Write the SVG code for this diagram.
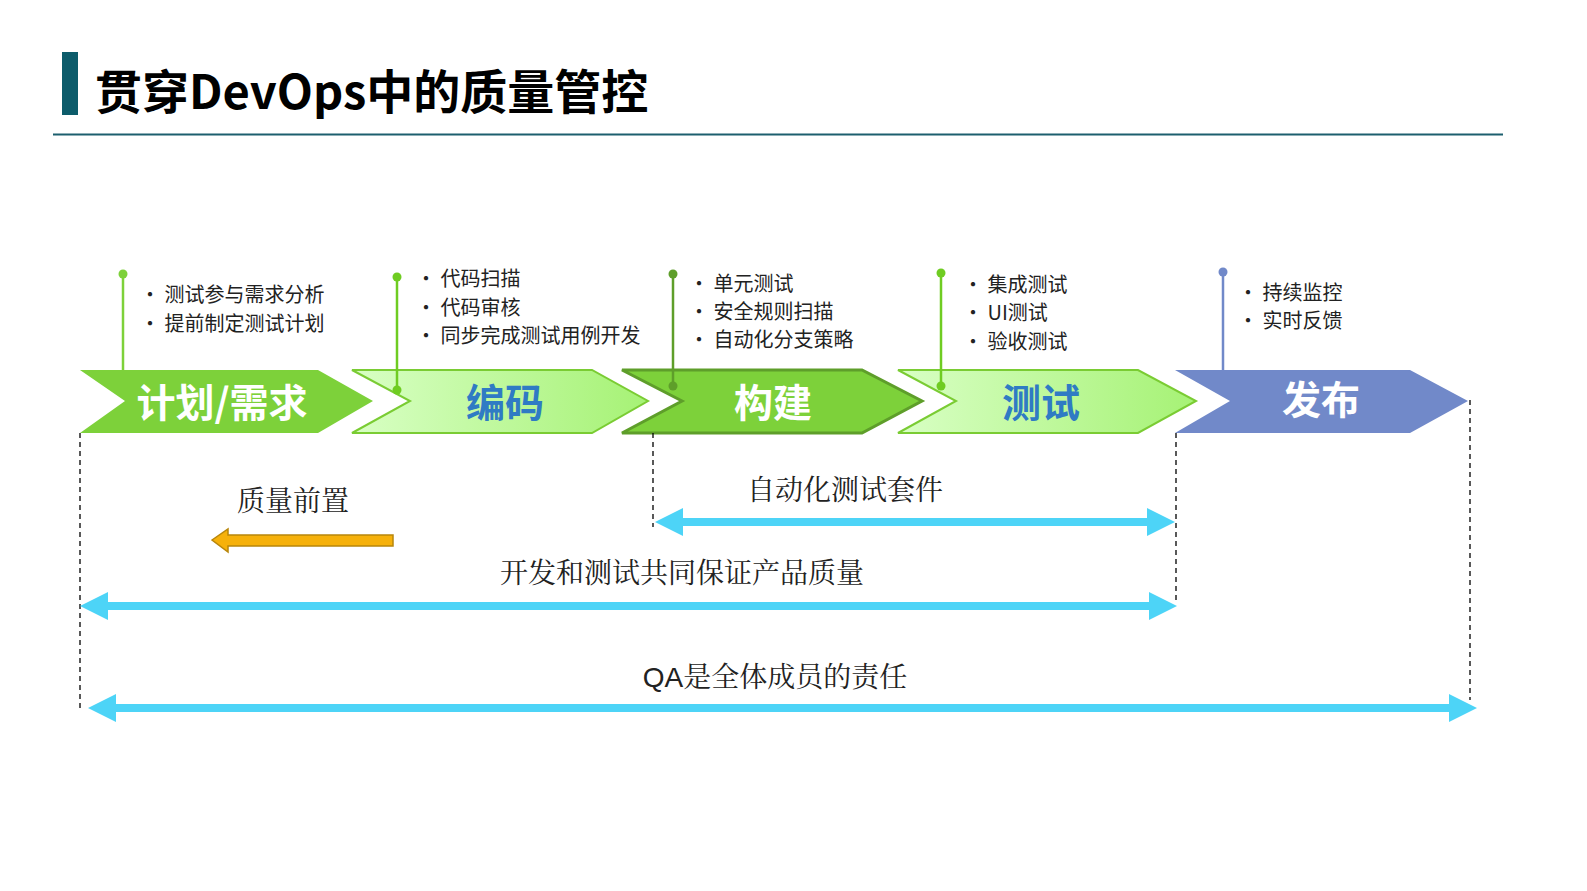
<svg xmlns="http://www.w3.org/2000/svg" width="1587" height="891" viewBox="0 0 1587 891">
<defs>
<linearGradient id="lg" x1="0" y1="0" x2="1" y2="0"><stop offset="0" stop-color="#d8ffc4"/><stop offset="1" stop-color="#a6f275"/></linearGradient>
<style>
.t{font-family:"Noto Sans CJK SC","Liberation Sans",sans-serif}
.b{font-size:20px;fill:#222}
.lbl{font-size:39px;font-weight:bold;text-anchor:middle}
.sf{font-family:"Noto Serif CJK SC","Liberation Serif","Noto Sans CJK SC",serif;font-size:28px;fill:#222;text-anchor:middle}
.dash{stroke:#000;stroke-width:1.3;stroke-dasharray:5,4;fill:none}
.ar{fill:#4dd4f7}
</style>
</defs>
<rect x="62" y="52" width="16" height="63" fill="#0d5c6b"/>
<text x="95" y="109" class="t" font-size="47" font-weight="bold" fill="#000">贯穿DevOps中的质量管控</text>
<line x1="53" y1="134.5" x2="1503" y2="134.5" stroke="#1c5f6e" stroke-width="2"/>

<g id="n1"><polygon points="80,370 318,370 373,401 318,433 80,433 125,401" fill="#7dd13a"/>
<line x1="123" y1="274" x2="123" y2="370" stroke="#7dd13a" stroke-width="2.5"/><circle cx="123" cy="274" r="4.5" fill="#7dd13a"/>
<text x="222" y="417" class="t lbl" fill="#fff">计划/需求</text>
<text class="t b"><tspan x="140" y="302">•   测试参与需求分析</tspan><tspan x="140" y="331">•   提前制定测试计划</tspan></text></g>

<g id="n2"><polygon points="352,370 592,370 648,401 592,433 352,433 410,401" fill="url(#lg)" stroke="#7acc33" stroke-width="2"/>
<line x1="397" y1="277" x2="397" y2="390" stroke="#6fcc22" stroke-width="2.5"/><circle cx="397" cy="277" r="4.5" fill="#6fcc22"/><circle cx="397" cy="390" r="4.5" fill="#6fcc22"/>
<text x="505" y="417" class="t lbl" fill="#2f7bc4">编码</text>
<text class="t b"><tspan x="416" y="286">•   代码扫描</tspan><tspan x="416" y="315">•   代码审核</tspan><tspan x="416" y="343">•   同步完成测试用例开发</tspan></text></g>

<g id="n3"><polygon points="622,370 862,370 922,401 862,433 622,433 682,401" fill="#7dd13a" stroke="#5e9e2a" stroke-width="3"/>
<line x1="673" y1="274" x2="673" y2="386" stroke="#5e9e2a" stroke-width="2.5"/><circle cx="673" cy="274" r="4.5" fill="#5e9e2a"/><circle cx="673" cy="386" r="4.5" fill="#5e9e2a"/>
<text x="773" y="417" class="t lbl" fill="#fff">构建</text>
<text class="t b"><tspan x="689" y="291">•   单元测试</tspan><tspan x="689" y="319">•   安全规则扫描</tspan><tspan x="689" y="347">•   自动化分支策略</tspan></text></g>

<g id="n4"><polygon points="898,370 1138,370 1196,401 1138,433 898,433 956,401" fill="url(#lg)" stroke="#7acc33" stroke-width="2"/>
<line x1="941" y1="273" x2="941" y2="386" stroke="#6fcc22" stroke-width="2.5"/><circle cx="941" cy="273" r="4.5" fill="#6fcc22"/><circle cx="941" cy="386" r="4.5" fill="#6fcc22"/>
<text x="1041" y="417" class="t lbl" fill="#2f7bc4">测试</text>
<text class="t b"><tspan x="963" y="292">•   集成测试</tspan><tspan x="963" y="320">•   UI测试</tspan><tspan x="963" y="349">•   验收测试</tspan></text></g>

<g id="n5"><polygon points="1175,370 1410,370 1468,401 1410,433 1175,433 1230,401" fill="#7189c9"/>
<line x1="1223" y1="272" x2="1223" y2="370" stroke="#7189c9" stroke-width="2.5"/><circle cx="1223" cy="272" r="4.5" fill="#7189c9"/>
<text x="1321" y="414" class="t lbl" fill="#fff">发布</text>
<text class="t b"><tspan x="1238" y="300">•   持续监控</tspan><tspan x="1238" y="328">•   实时反馈</tspan></text></g>

<g id="connectors">
<line x1="80" y1="433" x2="80" y2="710" class="dash"/>
<line x1="653" y1="433" x2="653" y2="527" class="dash"/>
<line x1="1176" y1="433" x2="1176" y2="602" class="dash"/>
<line x1="1470" y1="400" x2="1470" y2="700" class="dash"/>
<polygon class="ar" points="655,522 683,508 683,518 1147,518 1147,508 1175,522 1147,536 1147,526 683,526 683,536"/>
<polygon class="ar" points="80,606 108,592 108,602 1149,602 1149,592 1177,606 1149,620 1149,610 108,610 108,620"/>
<polygon class="ar" points="88,708 116,694 116,704 1449,704 1449,694 1477,708 1449,722 1449,712 116,712 116,722"/>
<polygon points="212,540 228,529 228,535 393,535 393,546 228,546 228,552" fill="#f6b10b" stroke="#b8860b" stroke-width="1.5"/>
</g>
<text x="293" y="511" class="sf">质量前置</text>
<text x="845" y="500" class="sf">自动化测试套件</text>
<text x="682" y="583" class="sf">开发和测试共同保证产品质量</text>
<text x="775" y="687" class="sf"><tspan font-family="Liberation Sans,sans-serif">QA</tspan>是全体成员的责任</text>
</svg>
